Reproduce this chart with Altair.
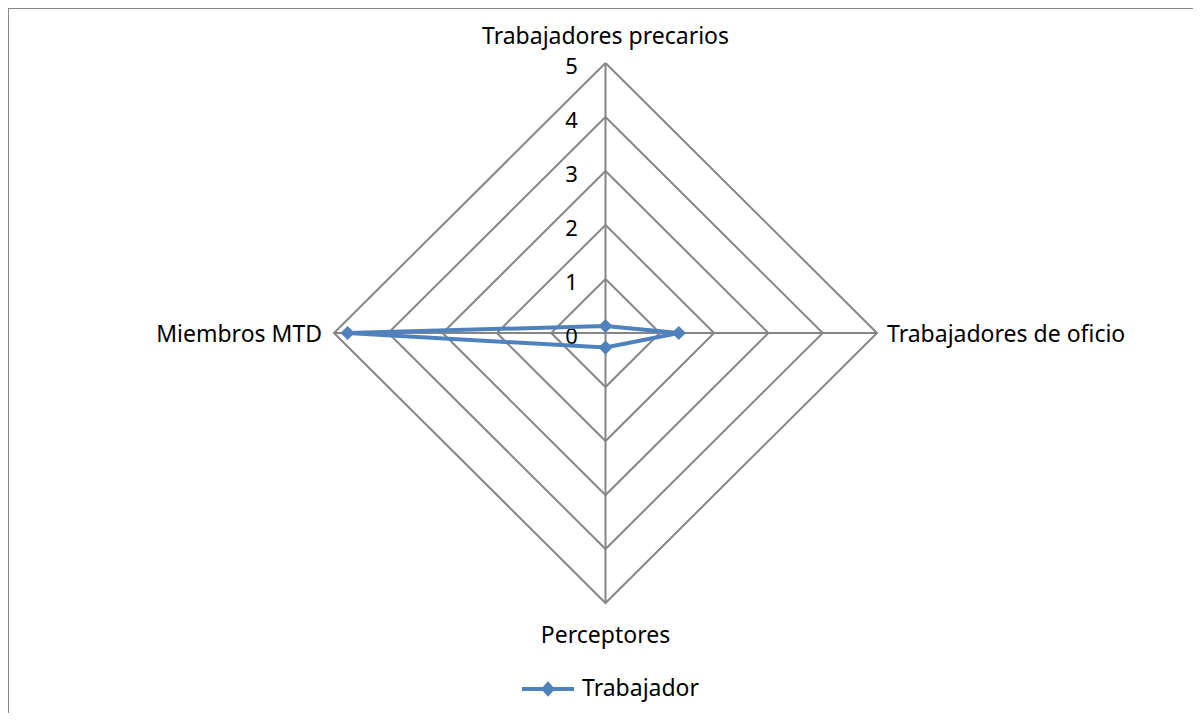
import altair as alt
import pandas as pd

categories = ["Trabajadores precarios", "Trabajadores de oficio", "Perceptores", "Miembros MTD"]
values = [0.13, 1.35, 0.27, 4.75]
levels = [1, 2, 3, 4, 5]
tick_values = [0, 1, 2, 3, 4, 5]
tick_labels = ["0", "1", "2", "3", "4", "5"]
series_name = "Trabajador"

n = len(categories)
rmax = max(levels)
FONT = "Noto Sans"
FS = 23
GRID = "#868686"
BLUE = "#4f81bd"

series_df = pd.DataFrame({
    "idx": list(range(n + 1)),
    "k": [i % n for i in range(n + 1)],
    "cat": [categories[i % n] for i in range(n + 1)],
    "value": [values[i % n] for i in range(n + 1)],
    "serie": [series_name] * (n + 1),
})
grid_df = pd.DataFrame({
    "level": [L for L in levels for i in range(n + 1)],
    "idx": [i for L in levels for i in range(n + 1)],
    "k": [i % n for L in levels for i in range(n + 1)],
})
spoke_df = pd.DataFrame({"k": list(range(n)), "r": [rmax] * n})
label_df = pd.DataFrame({"k": list(range(n)), "cat": categories, "r": [rmax] * n})
tick_df = pd.DataFrame({"v": tick_values, "t": tick_labels})

ang = "datum.k * 2 * PI / %d" % n
xs = alt.Scale(domain=[-rmax, rmax], nice=False, zero=False)
ys = alt.Scale(domain=[-rmax, rmax], nice=False, zero=False)
X = lambda f: alt.X(f, scale=xs, axis=None)
Y = lambda f: alt.Y(f, scale=ys, axis=None)

grid = alt.Chart(grid_df).transform_calculate(
    gx="datum.level * sin(%s)" % ang, gy="datum.level * cos(%s)" % ang
).mark_line(color=GRID, strokeWidth=2).encode(
    x=X("gx:Q"), y=Y("gy:Q"), detail="level:N", order="idx:Q"
)

spokes = alt.Chart(spoke_df).transform_calculate(
    x0="0", y0="0",
    x1="datum.r * sin(%s)" % ang, y1="datum.r * cos(%s)" % ang
).mark_rule(color=GRID, strokeWidth=2).encode(
    x=X("x0:Q"), y=Y("y0:Q"), x2="x1:Q", y2="y1:Q"
)

ticks = alt.Chart(tick_df).transform_calculate(tx="0").mark_text(
    font=FONT, fontSize=22, color="black", dx=-34, dy=4, align="center", baseline="middle"
).encode(x=X("tx:Q"), y=Y("v:Q"), text="t:N")

lab_base = alt.Chart(label_df).transform_calculate(
    lx="datum.r * sin(%s)" % ang, ly="datum.r * cos(%s)" % ang
)
lab_top = lab_base.transform_filter("datum.k == 0").mark_text(
    font=FONT, fontSize=FS, color="black", align="center", baseline="middle", dy=-26
).encode(x=X("lx:Q"), y=Y("ly:Q"), text="cat:N")
lab_right = lab_base.transform_filter("datum.k == 1").mark_text(
    font=FONT, fontSize=FS, color="black", align="left", baseline="middle", dx=10, dy=2
).encode(x=X("lx:Q"), y=Y("ly:Q"), text="cat:N")
lab_bottom = lab_base.transform_filter("datum.k == 2").mark_text(
    font=FONT, fontSize=FS, color="black", align="center", baseline="middle", dy=33
).encode(x=X("lx:Q"), y=Y("ly:Q"), text="cat:N")
lab_left = lab_base.transform_filter("datum.k == 3").mark_text(
    font=FONT, fontSize=FS, color="black", align="right", baseline="middle", dx=-12, dy=2
).encode(x=X("lx:Q"), y=Y("ly:Q"), text="cat:N")

sbase = alt.Chart(series_df).transform_calculate(
    px="datum.value * sin(%s)" % ang, py="datum.value * cos(%s)" % ang
)
sline = sbase.mark_line(color=BLUE, strokeWidth=4).encode(
    x=X("px:Q"), y=Y("py:Q"), order="idx:Q", detail="serie:N"
)
spts = sbase.transform_filter("datum.idx < %d" % n).mark_point(
    shape="diamond", filled=True, size=200, opacity=1
).encode(
    x=X("px:Q"), y=Y("py:Q"),
    color=alt.Color("serie:N", scale=alt.Scale(range=[BLUE]), title=None,
                    legend=alt.Legend(
                        orient="none", legendX=188, legendY=600,
                        symbolType="M-1,-0.08H1V0.08H-1Z M0,-0.3L0.27,0L0,0.3L-0.27,0Z",
                        symbolSize=2704, symbolStrokeWidth=0, symbolFillColor=BLUE,
                        labelFont=FONT, labelFontSize=FS, labelColor="black",
                        labelOffset=8,
                    )),
)

frame = pd.DataFrame({"a": [0]})
border_top = alt.Chart(frame).mark_rule(color=GRID, strokeWidth=2).encode(
    x=alt.value(-327), x2=alt.value(1000), y=alt.value(-55)
)
border_left = alt.Chart(frame).mark_rule(color=GRID, strokeWidth=2).encode(
    x=alt.value(-326), y=alt.value(-56), y2=alt.value(800)
)

chart = alt.layer(
    border_top, border_left, grid, spokes, ticks,
    lab_top, lab_right, lab_bottom, lab_left, sline, spts
).properties(
    width=543, height=540,
    autosize=alt.AutoSizeParams(type="none"),
    padding={"left": 326, "top": 55, "right": 316, "bottom": 110},
).configure_view(stroke=None)

chart.save("out.html", embed_options={"renderer": "svg", "actions": False})
